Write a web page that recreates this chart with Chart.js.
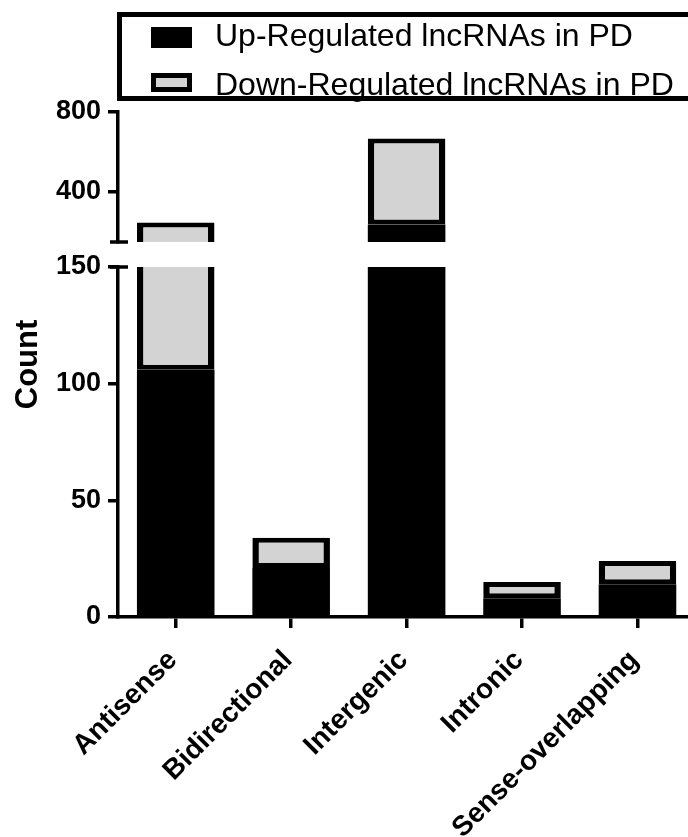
<!DOCTYPE html>
<html>
<head>
<meta charset="utf-8">
<script src="https://cdn.jsdelivr.net/npm/chart.js@4.4.0/dist/chart.umd.min.js"></script>
<style>
  html, body { margin: 0; padding: 0; background: #fff; overflow: hidden; }
  #wrap { position: relative; width: 700px; height: 837px; }
  #chart { position: absolute; left: 0; top: 0; }
  .legend-box { position: absolute; left: 117px; top: 12px; width: 640px; height: 79px; border: 5.5px solid #000; }
  .legend-item { position: absolute; left: 151px; font: 32px "Liberation Sans", Arial, sans-serif; line-height: 32px; color: #000; white-space: nowrap; }
  .legend-item span { position: absolute; left: 0; width: 41px; height: 21px; box-sizing: border-box; }
  .legend-item .txt { position: static; padding-left: 64px; }
</style>
</head>
<body>
<div id="wrap">
  <canvas id="chart" width="700" height="837"></canvas>
  <div class="legend-box"></div>
  <div class="legend-item" id="legUp" style="top: 19px;"><span style="top: 8px; background: #000;"></span><b class="txt" style="font-weight: normal;"></b></div>
  <div class="legend-item" id="legDown" style="top: 68px;"><span style="top: 5px; height: 19px; background: #d3d3d3; border: 5px solid #000;"></span><b class="txt" style="font-weight: normal;"></b></div>
</div>
<script>
// data
const categories = ['Antisense', 'Bidirectional', 'Intergenic', 'Intronic', 'Sense-overlapping'];
const upRegulated = [106, 21, 238, 8, 14];
const downRegulated = [142, 13, 429, 7, 10];
const seriesNames = ['Up-Regulated lncRNAs in PD', 'Down-Regulated lncRNAs in PD'];

// broken y axis: lower and upper segments
const lowRange = [0, 150];
const highRange = [150, 800];
const lowTicks = [0, 50, 100, 150];
const highTicks = [400, 800];

const upColor = '#000000';
const downColor = '#d3d3d3';
const fontFamily = '"Liberation Sans", Arial, sans-serif';

document.querySelector('#legUp .txt').textContent = seriesNames[0];
document.querySelector('#legDown .txt').textContent = seriesNames[1];

Chart.defaults.font.family = fontFamily;
Chart.defaults.color = '#000';

const barStyle = {
    borderColor: '#000',
    borderSkipped: false,
    barPercentage: 1,
    categoryPercentage: 0.672
};
const upStyle = { ...barStyle, backgroundColor: upColor, borderWidth: 0 };
const downStyle = { ...barStyle, backgroundColor: downColor, borderWidth: { top: 5, bottom: 5, left: 6.5, right: 6.5 } };

// each bar is drawn once per axis segment, so clip it to its own segment
const clipToScale = {
    id: 'clipToScale',
    beforeDatasetDraw(chart, args) {
        const s = chart.scales[args.meta.yAxisID];
        const ctx = chart.ctx;
        ctx.save();
        ctx.beginPath();
        ctx.rect(chart.chartArea.left, s.top, chart.chartArea.width, s.bottom - s.top);
        ctx.clip();
    },
    afterDatasetDraw(chart) {
        chart.ctx.restore();
    }
};

// break caps on the y axis + the axis title
const axisExtras = {
    id: 'axisExtras',
    afterDraw(chart) {
        const ctx = chart.ctx;
        const hi = chart.scales.yHigh;
        const lo = chart.scales.yLow;
        const x = lo.right;
        ctx.save();
        ctx.strokeStyle = '#000';
        ctx.lineWidth = 3.5;
        [hi.getPixelForValue(highRange[0]), lo.getPixelForValue(lowRange[1])].forEach(y => {
            ctx.beginPath();
            ctx.moveTo(x - 8, y);
            ctx.lineTo(x + 10, y);
            ctx.stroke();
        });
        ctx.fillStyle = '#000';
        ctx.font = 'bold 31px ' + fontFamily;
        ctx.translate(37, (hi.top + lo.bottom) / 2);
        ctx.rotate(-Math.PI / 2);
        ctx.textAlign = 'center';
        ctx.textBaseline = 'alphabetic';
        ctx.fillText('Count', 0, 0);
        ctx.restore();
    }
};

const yTickStyle = {
    grid: { display: true, drawOnChartArea: false, drawTicks: true, tickLength: 10, lineWidth: 3.5, color: '#000' },
    border: { display: true, width: 3.5, color: '#000' },
    ticks: { font: { size: 27, weight: 'bold' }, color: '#000', padding: 7 }
};

new Chart(document.getElementById('chart'), {
    type: 'bar',
    data: {
        labels: categories,
        datasets: [
            { label: seriesNames[0], data: upRegulated, yAxisID: 'yHigh', ...upStyle },
            { label: seriesNames[1], data: downRegulated, yAxisID: 'yHigh', ...downStyle },
            { label: seriesNames[0], data: upRegulated, yAxisID: 'yLow', ...upStyle },
            { label: seriesNames[1], data: downRegulated, yAxisID: 'yLow', ...downStyle }
        ]
    },
    options: {
        responsive: false,
        animation: false,
        events: [],
        layout: { padding: { top: 112, right: 4.8, bottom: 0, left: 0 } },
        plugins: {
            legend: { display: false },
            tooltip: { enabled: false }
        },
        scales: {
            x: {
                stacked: true,
                afterFit: s => { s.height = 220; },
                grid: { display: true, drawOnChartArea: false, offset: false, tickLength: 11, lineWidth: 3.5, color: '#000' },
                border: { display: true, width: 3.5, color: '#000' },
                ticks: { font: { size: 28, weight: 'bold' }, color: '#000', minRotation: 45, maxRotation: 45, autoSkip: false, padding: 16, labelOffset: -3 }
            },
            // stacked scales are laid out bottom-up in definition order here
            yLow: {
                type: 'linear', position: 'left', stack: 'count', stackWeight: 350, stacked: true,
                min: lowRange[0], max: lowRange[1],
                afterBuildTicks: s => { s.ticks = lowTicks.map(v => ({ value: v })); },
                afterFit: s => { s.width = 118; },
                ...yTickStyle
            },
            yGap: {
                type: 'linear', position: 'left', stack: 'count', stackWeight: 25,
                grid: { display: false }, border: { display: false }, ticks: { display: false },
                afterFit: s => { s.width = 118; }
            },
            yHigh: {
                type: 'linear', position: 'left', stack: 'count', stackWeight: 130, stacked: true,
                min: highRange[0], max: highRange[1],
                afterBuildTicks: s => { s.ticks = highTicks.map(v => ({ value: v })); },
                afterFit: s => { s.width = 118; },
                ...yTickStyle
            }
        }
    },
    plugins: [clipToScale, axisExtras]
});
</script>
</body>
</html>
